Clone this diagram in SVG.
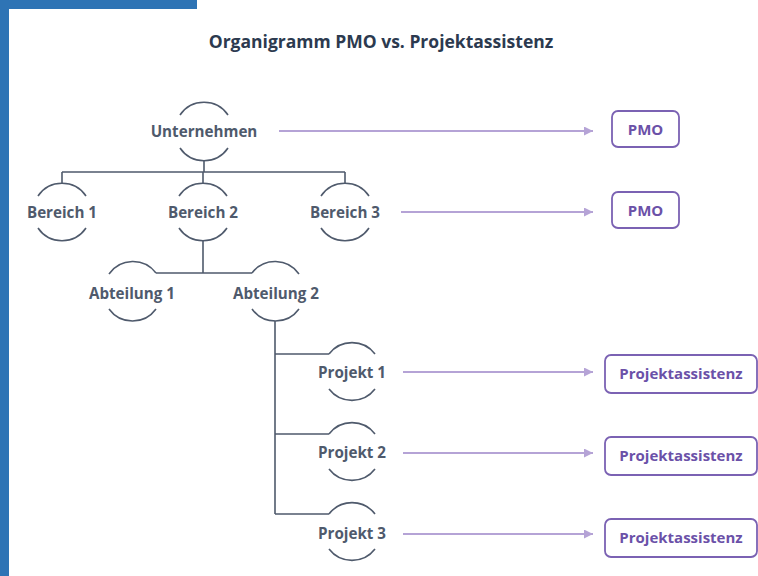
<svg xmlns="http://www.w3.org/2000/svg" width="758" height="576" viewBox="0 0 758 576">
<defs>
<marker id="ah" viewBox="0 0 10 10" refX="10" refY="5" markerWidth="9" markerHeight="9" markerUnits="userSpaceOnUse" orient="auto">
<path d="M0,0 L10,5 L0,10 Z" fill="#b5a3d6"/>
</marker>
<style>
.bar{fill:#2e74b5}
.title{font-family:"Open Sans","Liberation Sans",sans-serif;font-weight:700;font-size:17.5px;fill:#2c3a4f;text-anchor:middle}
.lbl{font-family:"Open Sans","Liberation Sans",sans-serif;font-weight:700;font-size:15.2px;fill:#4f5a6c;text-anchor:middle}
.arc{fill:none;stroke:#4f5a6c;stroke-width:1.6}
.tree{fill:none;stroke:#4f5a6c;stroke-width:1.6}
.arr{fill:none;stroke:#b5a3d6;stroke-width:2;marker-end:url(#ah)}
.box{fill:#ffffff;stroke:#7b62b3;stroke-width:1.8}
.blbl{font-family:"Open Sans","Liberation Sans",sans-serif;font-weight:700;font-size:15px;fill:#6b51a8;text-anchor:middle}
</style>
</defs>
<rect class="bar" x="0" y="0" width="197" height="9"/>
<rect class="bar" x="0" y="0" width="9" height="576"/>
<text class="title" x="381" y="48">Organigramm PMO vs. Projektassistenz</text>

<g id="connectors">
<path class="tree" d="M204,160 V172 M62,172 H345 M62,172 V183 M203,172 V183 M345,172 V183"/>
<path class="tree" d="M203,241 V273 M156,273 H252"/>
<path class="tree" d="M275,321 V514 M275,354 H329 M275,434 H329 M275,514 H329"/>
<path class="arr" d="M279,131 H593"/>
<path class="arr" d="M401,212 H593"/>
<path class="arr" d="M403,372 H593"/>
<path class="arr" d="M403,453 H593"/>
<path class="arr" d="M403,534 H593"/>
</g>

<g id="n-unternehmen">
<path class="arc" d="M180,115 A29,29 0 0 1 228,115"/>
<path class="arc" d="M180,148 A29,29 0 0 0 228,148"/>
<text class="lbl" x="204" y="136.5">Unternehmen</text>
</g>
<g id="n-bereich1">
<path class="arc" d="M38,196 A29,29 0 0 1 86,196"/>
<path class="arc" d="M38,228 A29,29 0 0 0 86,228"/>
<text class="lbl" x="62" y="217.5">Bereich 1</text>
</g>
<g id="n-bereich2">
<path class="arc" d="M179,196 A29,29 0 0 1 227,196"/>
<path class="arc" d="M179,228 A29,29 0 0 0 227,228"/>
<text class="lbl" x="203" y="217.5">Bereich 2</text>
</g>
<g id="n-bereich3">
<path class="arc" d="M321,196 A29,29 0 0 1 369,196"/>
<path class="arc" d="M321,228 A29,29 0 0 0 369,228"/>
<text class="lbl" x="345" y="217.5">Bereich 3</text>
</g>
<g id="n-abteilung1">
<path class="arc" d="M109,274 A29,29 0 0 1 156,273"/>
<path class="arc" d="M109,309 A29,29 0 0 0 156,309"/>
<text class="lbl" x="132" y="298.5">Abteilung 1</text>
</g>
<g id="n-abteilung2">
<path class="arc" d="M252,273 A29,29 0 0 1 299,274"/>
<path class="arc" d="M252,309 A29,29 0 0 0 299,309"/>
<text class="lbl" x="276" y="298.5">Abteilung 2</text>
</g>
<g id="n-projekt1">
<path class="arc" d="M329,354 A29,29 0 0 1 375,354"/>
<path class="arc" d="M329,389 A29,29 0 0 0 375,389"/>
<text class="lbl" x="352" y="377.5">Projekt 1</text>
</g>
<g id="n-projekt2">
<path class="arc" d="M329,434 A29,29 0 0 1 375,434"/>
<path class="arc" d="M329,469 A29,29 0 0 0 375,469"/>
<text class="lbl" x="352" y="457.5">Projekt 2</text>
</g>
<g id="n-projekt3">
<path class="arc" d="M329,514 A29,29 0 0 1 375,514"/>
<path class="arc" d="M329,549 A29,29 0 0 0 375,549"/>
<text class="lbl" x="352" y="538.5">Projekt 3</text>
</g>

<g id="b-pmo1">
<rect class="box" x="612" y="111" width="67" height="36" rx="6"/>
<text class="blbl" x="645.5" y="134.5">PMO</text>
</g>
<g id="b-pmo2">
<rect class="box" x="612" y="192" width="67" height="36" rx="6"/>
<text class="blbl" x="645.5" y="215.5">PMO</text>
</g>
<g id="b-pa1">
<rect class="box" x="605" y="355" width="152" height="38" rx="6"/>
<text class="blbl" x="681" y="379">Projektassistenz</text>
</g>
<g id="b-pa2">
<rect class="box" x="605" y="437" width="152" height="38" rx="6"/>
<text class="blbl" x="681" y="461">Projektassistenz</text>
</g>
<g id="b-pa3">
<rect class="box" x="605" y="519" width="152" height="38" rx="6"/>
<text class="blbl" x="681" y="543">Projektassistenz</text>
</g>
</svg>
